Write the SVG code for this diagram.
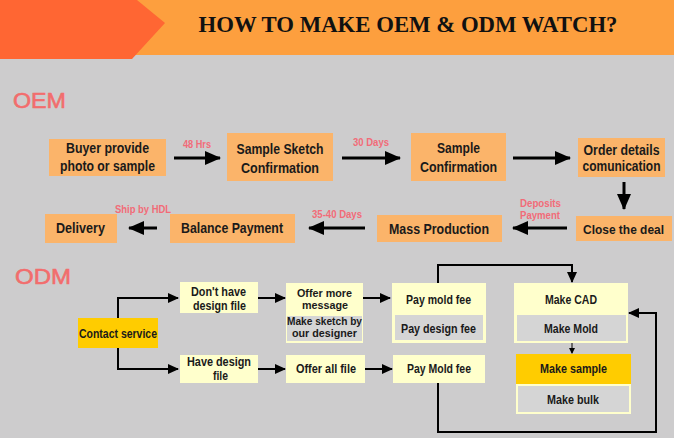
<svg xmlns="http://www.w3.org/2000/svg" width="674" height="438" viewBox="0 0 674 438">
<style>
.t{font-family:"Liberation Sans",Arial,sans-serif;font-weight:bold;fill:#1a1a1a;text-anchor:middle}
.b{font-size:15px}
.m{font-size:14px}
.s{font-size:12.5px}
.xs{font-size:11.5px}
.xxs{font-size:10.5px}
.lbl{font-family:"Liberation Sans",Arial,sans-serif;font-weight:bold;font-size:10.5px;fill:#f26b78;text-anchor:middle}
.sec{font-family:"Liberation Sans",Arial,sans-serif;font-size:22px;fill:#f26d6d;stroke:#f26d6d;stroke-width:0.6}
.ob{fill:#fbb46a}
.py{fill:#ffffcc}
.gy{fill:#d5d5d5}
.yl{fill:#ffcc00}
.big{stroke:#000;stroke-width:3;fill:none}
.sm{stroke:#000;stroke-width:2;fill:none}
</style>
<defs>
<marker id="ah" markerUnits="userSpaceOnUse" markerWidth="16" markerHeight="14" refX="15" refY="7" orient="auto"><path d="M0,0 L16,7 L0,14 z" fill="#000"/></marker>
<marker id="as" markerUnits="userSpaceOnUse" markerWidth="11" markerHeight="10" refX="10" refY="5" orient="auto"><path d="M0,0 L11,5 L0,10 z" fill="#000"/></marker>
<marker id="at" markerUnits="userSpaceOnUse" markerWidth="6" markerHeight="6" refX="5" refY="3" orient="auto"><path d="M0,0 L6,3 L0,6 z" fill="#000"/></marker>
</defs>
<rect x="0" y="0" width="674" height="438" fill="#cdcccd"/>
<g id="header">
<rect x="0" y="0" width="674" height="55" fill="#fd9f3e"/>
<polygon points="0,0 137,0 165,23 132,59 0,59" fill="#ff6633"/>
<text x="408" y="32" font-family="Liberation Serif,Times New Roman,serif" font-weight="bold" font-size="23" fill="#111" text-anchor="middle" textLength="419" lengthAdjust="spacingAndGlyphs">HOW TO MAKE OEM &amp; ODM WATCH?</text>
</g>
<text class="sec" x="13" y="108" textLength="53" lengthAdjust="spacingAndGlyphs">OEM</text>
<text class="sec" x="15" y="284" textLength="56" lengthAdjust="spacingAndGlyphs">ODM</text>

<g id="connectors">
<line class="big" x1="174" y1="158" x2="220" y2="158" marker-end="url(#ah)"/>
<line class="big" x1="342" y1="158" x2="400" y2="158" marker-end="url(#ah)"/>
<line class="big" x1="513" y1="158" x2="570" y2="158" marker-end="url(#ah)"/>
<line class="big" x1="624" y1="182" x2="624" y2="209" marker-end="url(#ah)"/>
<line class="big" x1="567" y1="228" x2="513" y2="228" marker-end="url(#ah)"/>
<line class="big" x1="365" y1="228" x2="309" y2="228" marker-end="url(#ah)"/>
<line class="big" x1="157" y1="228" x2="129" y2="228" marker-end="url(#ah)"/>
<path class="sm" d="M118,318 V298 H178" marker-end="url(#as)"/>
<path class="sm" d="M118,348 V369 H178" marker-end="url(#as)"/>
<line class="sm" x1="258" y1="298" x2="285" y2="298" marker-end="url(#as)"/>
<line class="sm" x1="258" y1="369" x2="285" y2="369" marker-end="url(#as)"/>
<line class="sm" x1="363" y1="298" x2="390" y2="298" marker-end="url(#as)"/>
<line class="sm" x1="365" y1="369" x2="392" y2="369" marker-end="url(#as)"/>
<path class="sm" d="M438,283 V265 H572 V282" marker-end="url(#as)"/>
<path class="sm" d="M438,383 V432 H656 V313 H629" marker-end="url(#as)"/>
<line stroke="#000" stroke-width="1" x1="572" y1="343" x2="572" y2="353" marker-end="url(#at)"/>
<text class="lbl" x="197" y="147.5" textLength="28" lengthAdjust="spacingAndGlyphs">48 Hrs</text>
<text class="lbl" x="371" y="145.5" textLength="36" lengthAdjust="spacingAndGlyphs">30 Days</text>
<text class="lbl" x="540.5" y="207" textLength="41" lengthAdjust="spacingAndGlyphs">Deposits</text>
<text class="lbl" x="540" y="219" textLength="40" lengthAdjust="spacingAndGlyphs">Payment</text>
<text class="lbl" x="337" y="217.5" textLength="50" lengthAdjust="spacingAndGlyphs">35-40 Days</text>
<text class="lbl" x="143" y="213" textLength="56" lengthAdjust="spacingAndGlyphs">Ship by HDL</text>
</g>

<g id="buyer"><rect class="ob" x="49" y="139" width="117" height="37"/><text class="t b" x="107.5" y="153" textLength="83" lengthAdjust="spacingAndGlyphs">Buyer provide</text><text class="t b" x="107.5" y="171" textLength="95" lengthAdjust="spacingAndGlyphs">photo or sample</text></g>
<g id="sketch"><rect class="ob" x="227" y="133" width="106" height="48"/><text class="t b" x="280" y="153.5" textLength="87" lengthAdjust="spacingAndGlyphs">Sample Sketch</text><text class="t b" x="280" y="173" textLength="78" lengthAdjust="spacingAndGlyphs">Confirmation</text></g>
<g id="sampleconf"><rect class="ob" x="411" y="133" width="95" height="48"/><text class="t b" x="458.5" y="153" textLength="43" lengthAdjust="spacingAndGlyphs">Sample</text><text class="t b" x="458.5" y="172" textLength="77" lengthAdjust="spacingAndGlyphs">Confirmation</text></g>
<g id="order"><rect class="ob" x="578" y="138" width="87" height="39"/><text class="t m" x="621.5" y="155" textLength="76" lengthAdjust="spacingAndGlyphs">Order details</text><text class="t m" x="621.5" y="171" textLength="78" lengthAdjust="spacingAndGlyphs">comunication</text></g>
<g id="close"><rect class="ob" x="576" y="216" width="96" height="25"/><text class="t" font-size="13" x="623.5" y="233.5" textLength="81" lengthAdjust="spacingAndGlyphs">Close the deal</text></g>
<g id="mass"><rect class="ob" x="377" y="215" width="125" height="27"/><text class="t m" x="439" y="234" textLength="100" lengthAdjust="spacingAndGlyphs">Mass Production</text></g>
<g id="balance"><rect class="ob" x="170" y="214" width="125" height="29"/><text class="t m" x="232" y="232.5" textLength="102" lengthAdjust="spacingAndGlyphs">Balance Payment</text></g>
<g id="delivery"><rect class="ob" x="45" y="214" width="72" height="29"/><text class="t m" x="80.5" y="232.5" textLength="49" lengthAdjust="spacingAndGlyphs">Delivery</text></g>

<g id="contact"><rect class="yl" x="78" y="318" width="80" height="30"/><text class="t s" x="118" y="337.5" textLength="78" lengthAdjust="spacingAndGlyphs">Contact service</text></g>
<g id="nodesign"><rect class="py" x="180" y="282" width="78" height="31"/><text class="t s" x="218.5" y="296" textLength="55" lengthAdjust="spacingAndGlyphs">Don't have</text><text class="t s" x="219.5" y="309.5" textLength="53" lengthAdjust="spacingAndGlyphs">design file</text></g>
<g id="havedesign"><rect class="py" x="180" y="355" width="78" height="28"/><text class="t s" x="219" y="366" textLength="64" lengthAdjust="spacingAndGlyphs">Have design</text><text class="t s" x="220.5" y="380" textLength="15" lengthAdjust="spacingAndGlyphs">file</text></g>
<g id="offermore"><rect class="py" x="286" y="283" width="77" height="60"/><rect class="gy" x="287" y="316" width="75" height="25"/><text class="t xxs" x="324.5" y="296.5" textLength="55" lengthAdjust="spacingAndGlyphs">Offer more</text><text class="t xxs" x="325" y="309" textLength="46" lengthAdjust="spacingAndGlyphs">message</text><text class="t xs" x="324.5" y="325" textLength="75" lengthAdjust="spacingAndGlyphs">Make sketch by</text><text class="t xs" x="324.5" y="337" textLength="65" lengthAdjust="spacingAndGlyphs">our designer</text></g>
<g id="offerall"><rect class="py" x="286" y="355" width="79" height="28"/><text class="t s" x="326" y="373" textLength="60" lengthAdjust="spacingAndGlyphs">Offer all file</text></g>
<g id="paymold1"><rect class="py" x="392" y="283" width="94" height="60"/><rect class="gy" x="395" y="315" width="88" height="25"/><text class="t s" x="438.5" y="303.5" textLength="65" lengthAdjust="spacingAndGlyphs">Pay mold fee</text><text class="t s" x="438.5" y="332.5" textLength="75" lengthAdjust="spacingAndGlyphs">Pay design fee</text></g>
<g id="paymold2"><rect class="py" x="393" y="355" width="92" height="28"/><text class="t s" x="439" y="372.5" textLength="64" lengthAdjust="spacingAndGlyphs">Pay Mold fee</text></g>
<g id="cad"><rect class="py" x="514" y="283" width="114" height="60"/><rect class="gy" x="517" y="315" width="109" height="26"/><text class="t s" x="571" y="303.5" textLength="52" lengthAdjust="spacingAndGlyphs">Make CAD</text><text class="t s" x="571" y="332.5" textLength="54" lengthAdjust="spacingAndGlyphs">Make Mold</text></g>
<g id="sample"><rect class="yl" x="516" y="354" width="115" height="30"/><text class="t s" x="573.5" y="373" textLength="67" lengthAdjust="spacingAndGlyphs">Make sample</text></g>
<g id="bulk"><rect class="py" x="516" y="384" width="115" height="30"/><rect class="gy" x="518" y="386" width="111" height="26"/><text class="t s" x="573" y="403.5" textLength="52" lengthAdjust="spacingAndGlyphs">Make bulk</text></g>
</svg>
